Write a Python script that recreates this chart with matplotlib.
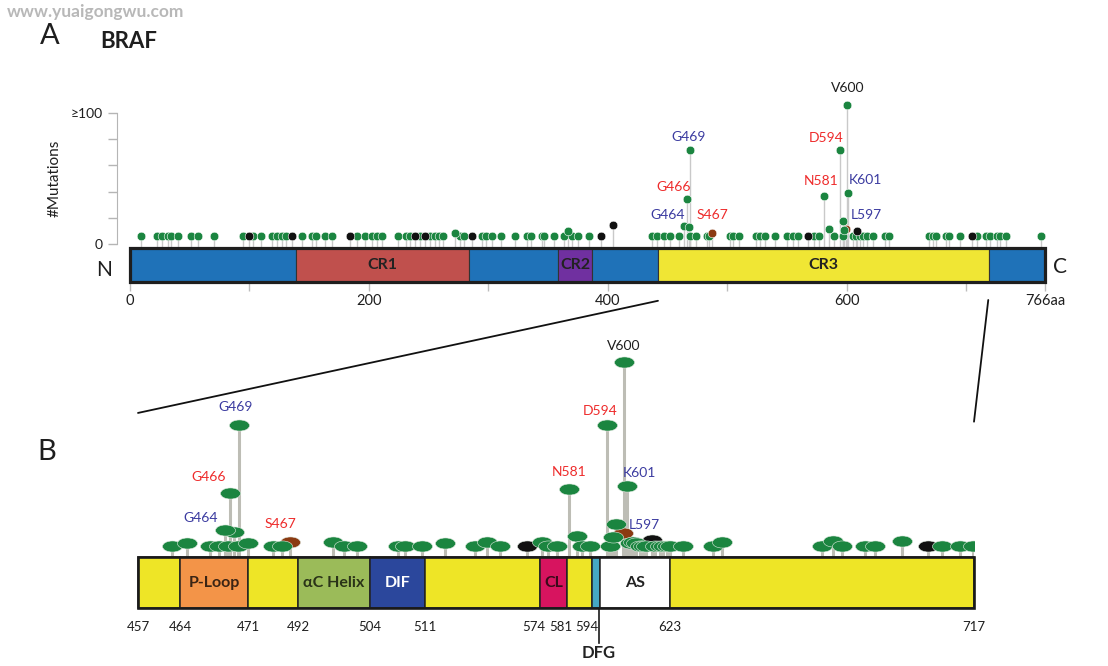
import numpy as np
import matplotlib.pyplot as plt
from matplotlib.patches import Rectangle, ConnectionPatch
from matplotlib.path import Path
from matplotlib.transforms import ScaledTranslation

plt.rcParams['font.family'] = ['Lato', 'DejaVu Sans']

W, H = 1108, 666

# ---------------- panel A : full length BRAF (766 aa) ----------------
a_length = 766
a_dom_start = [0, 139, 284, 358, 387, 442, 719]
a_dom_end = [139, 284, 358, 387, 442, 719, 766]
a_dom_name = ['', 'CR1', '', 'CR2', '', 'CR3', '']
a_dom_color = ['#1f72b8', '#c0504d', '#1f72b8', '#7030a0', '#1f72b8', '#f0e634', '#1f72b8']
a_xticks = [0, 200, 400, 600, 766]
a_xtick_labels = ['0', '200', '400', '600', '766aa']
a_minor_ticks = [100, 300, 500, 700]
a_yticks = [0, 20, 40, 60, 80, 100]
a_ytick_labels = ['0', '', '', '', '', '≥100']

# single-hit lollipops all sit at the same height
a_single = 6.5
a_single_green = [9, 23, 27, 32, 34, 40, 51, 57, 70, 95, 103, 110, 119, 123, 127, 131,
                  144, 152, 156, 163, 169, 190, 197, 203, 207, 211, 224, 231, 234, 243,
                  251, 255, 259, 262, 276, 280, 295, 298, 303, 311, 322, 332, 336, 345,
                  347, 355, 363, 370, 375, 384, 437, 441, 447, 452, 460, 469, 474, 483,
                  485, 502, 505, 510, 524, 527, 532, 540, 550, 555, 559, 573, 577, 589,
                  597, 605, 608, 611, 614, 617, 622, 632, 635, 669, 672, 675, 683, 686,
                  695, 709, 717, 720, 726, 728, 733, 763]
a_green_pos = [272, 367, 464, 468, 466, 469, 581, 585, 598, 597, 594, 601, 600]
a_green_cnt = [8.5, 10, 14.1, 13.4, 34.7, 71.7, 36.7, 11.6, 10.9, 17.7, 71.7, 39, 105.8]
a_black_pos = [100, 136, 184, 239, 247, 286, 394, 404, 568, 609, 705]
a_black_cnt = [6.5, 6.5, 6.5, 6.5, 6.5, 6.5, 6.5, 14.7, 6.5, 10, 6.5]
a_brown_pos = [487, 599]
a_brown_cnt = [8.8, 12]

# hotspot labels: text, residue, count, colour, offset in pixels
a_labels = [('V600', 600, 105.8, 'k', 1, 17),
            ('G469', 469, 71.7, 'b', -2, 13),
            ('D594', 594, 71.7, 'r', -13, 12),
            ('G466', 466, 34.7, 'r', -13, 12),
            ('N581', 581, 36.7, 'r', -3, 15),
            ('K601', 601, 39, 'b', 18, 13),
            ('G464', 464, 14.1, 'b', -17, 11),
            ('S467', 487, 8.8, 'r', 1, 18),
            ('L597', 597, 17.7, 'b', 23, 6)]

# ---------------- panel B : kinase domain 457-717 ----------------
b_dom_start = [457, 464, 471, 492, 504, 511, 574, 581, 594, 597, 623]
b_dom_end = [464, 471, 492, 504, 511, 574, 581, 594, 597, 623, 717]
b_dom_name = ['', 'P-Loop', '', 'αC Helix', 'DIF', '', 'CL', '', '', 'AS', '']
b_dom_color = ['#eee526', '#f39448', '#eee526', '#9bbb59', '#2b479c', '#eee526',
               '#d7145f', '#eee526', '#45a8c4', '#ffffff', '#eee526']
b_dom_text = ['#222', '#3a2414', '#222', '#2a3318', '#ffffff', '#222', '#3a0a1a',
              '#222', '#222', '#222', '#222']
b_xticks = [457, 464, 471, 492, 504, 511, 574, 581, 594, 623, 717]
b_dfg = 596.5

b_green_pos = [462.6, 464.7, 467.1, 468.0, 468.9, 469.6, 470.0, 471.0, 481.6, 485.1,
               497.9, 499.6, 501.8, 507.6, 508.5, 510.6, 522.0, 538.4, 544.8, 552.1,
               574.4, 576.1, 578.3, 586.4, 588.6, 592.9, 600.7, 601.7, 608.1, 609.3,
               610.4, 611.8, 613.0, 614.1, 617.4, 619.3, 620.5, 621.9, 623.0, 627.1,
               636.2, 639.0, 669.9, 673.5, 676.1, 683.3, 686.4, 694.6, 707.0, 712.7,
               716.8, 468.6, 469.1, 470.1, 582.0, 602.8, 599.7, 607.1, 606.0]
b_green_cnt = [6.2, 7.5, 6.2, 6.2, 6.2, 13.4, 6.2, 7.5, 6.2, 6.2,
               8.4, 6.2, 6.2, 6.2, 6.2, 6.2, 7.5, 6.2, 8.4, 6.2,
               8.4, 6.2, 6.2, 11.6, 6.2, 6.2, 6.2, 11.1, 7.5, 8.1,
               7.5, 6.2, 6.2, 6.2, 6.2, 6.2, 6.2, 6.2, 6.2, 6.2,
               6.2, 8.1, 6.2, 8.9, 6.2, 6.2, 6.2, 8.9, 6.2, 6.2,
               6.2, 14.7, 34.4, 71.1, 36.6, 17.7, 71.1, 38.5, 104.8]
b_black_pos = [566.7, 616.2, 702.9]
b_black_cnt = [6.2, 9.3, 6.2]
b_brown_pos = [488.6, 605.6]
b_brown_cnt = [8.4, 12.9]

b_labels = [('V600', 606.0, 104.8, 'k', -1, 16),
            ('D594', 599.7, 71.1, 'r', -7, 14),
            ('N581', 582.0, 36.6, 'r', 0, 17),
            ('K601', 607.1, 38.5, 'b', 12, 13),
            ('L597', 602.8, 17.7, 'b', 29, -1),
            ('G469', 470.1, 71.1, 'b', -4, 18),
            ('G466', 469.1, 34.4, 'r', -21, 16),
            ('G464', 468.6, 14.7, 'b', -24, 12),
            ('S467', 488.6, 8.4, 'r', -9, 18)]

# schematic (non linear) residue scale of panel B: residue -> pixel breakpoints
b_bp_res = [400, 457, 464, 471, 492, 504, 511, 574, 581, 594, 623, 717, 800]
b_bp_px = [-204, 138, 180, 248, 298, 370, 425, 540, 567, 592, 670, 974, 1242]
# crowded tick labels are nudged left (pixels)
b_tick_nudge = {574: -6, 581: -6, 594: -5}

label_colors = {'k': '#1e1e1e', 'r': '#ee2b2b', 'b': '#3b3ba0'}
green, black, brown = '#1b8540', '#111111', '#8b3a12'


def px_axes(left, top, right, bottom):
    return fig.add_axes([left / W, 1 - bottom / H, (right - left) / W, (bottom - top) / H])


fig = plt.figure(figsize=(W / 100, H / 100), dpi=100)

# ======================= panel A =======================
axA = px_axes(130, 95, 1045, 300)
axA.set_xlim(0, a_length)
axA.set_ylim(-42.3, 113.4)
bar_top, bar_bot = -3.0, -28.4

allpos = a_single_green + a_green_pos + a_black_pos + a_brown_pos
allcnt = [a_single] * len(a_single_green) + a_green_cnt + a_black_cnt + a_brown_cnt
axA.vlines(allpos, bar_top, allcnt, colors='#c9c9c9', lw=1.0, zorder=1)
mk = dict(ls='none', marker='o', ms=6.2, mec='white', mew=0.4, zorder=3)
axA.plot(a_single_green, [a_single] * len(a_single_green), mfc=green, **mk)
axA.plot(a_black_pos, a_black_cnt, mfc=black, **mk)
axA.plot(a_brown_pos, a_brown_cnt, mfc=brown, **mk)
axA.plot(a_green_pos, a_green_cnt, mfc=green, **mk)

for s, e, name, c in zip(a_dom_start, a_dom_end, a_dom_name, a_dom_color):
    axA.add_patch(Rectangle((s, bar_bot), e - s, bar_top - bar_bot, fc=c, ec='#333333',
                            lw=0.8, zorder=4, clip_on=False))
    if name:
        axA.text((s + e) / 2, (bar_top + bar_bot) / 2, name, ha='center', va='center',
                 fontsize=11.5, fontweight='bold', color='#222222', zorder=6)
axA.add_patch(Rectangle((0, bar_bot), a_length, bar_top - bar_bot, fill=False,
                        ec='#1e1e1e', lw=2.3, zorder=5, clip_on=False))

for txt, x, y, c, dx, dy in a_labels:
    axA.annotate(txt, (x, y), xytext=(dx, dy), textcoords='offset pixels', ha='center',
                 va='center', fontsize=10, color=label_colors[c], zorder=7)

for side in ['top', 'right']:
    axA.spines[side].set_visible(False)
axA.spines['bottom'].set_position(('data', bar_bot))
axA.spines['bottom'].set_visible(False)
axA.spines['left'].set_position(('outward', 9.2))
axA.spines['left'].set_bounds(0, 100)
axA.spines['left'].set_color('#b5b5b5')
axA.set_yticks(a_yticks)
axA.set_yticklabels(a_ytick_labels)
axA.set_xticks(a_xticks)
axA.set_xticklabels(a_xtick_labels)
axA.set_xticks(a_minor_ticks, minor=True)
axA.tick_params(axis='y', length=6.5, width=1, color='#b5b5b5', labelsize=10,
                pad=4, labelcolor='#1e1e1e')
axA.tick_params(axis='x', which='both', length=6.5, width=1, color='#bdbdbd',
                labelsize=10.5, pad=2.5, labelcolor='#1e1e1e')
axA.patch.set_visible(False)

# ======================= panel B =======================
def fwd(x):
    return np.interp(x, b_bp_res, b_bp_px)


def inv(x):
    return np.interp(x, b_bp_px, b_bp_res)


axB = px_axes(138, 340, 974, 608.3)
axB.set_xscale('function', functions=(fwd, inv))
axB.set_xlim(457, 717)
axB.set_ylim(-27.4, 116.8)
bb_top, bb_bot = 0, -27.4

ell = Path.unit_circle()
ell = Path(ell.vertices * [1, 0.55], ell.codes)

ballpos = b_green_pos + b_black_pos + b_brown_pos
ballcnt = b_green_cnt + b_black_cnt + b_brown_cnt
axB.vlines(ballpos, bb_top, ballcnt, colors='#bdbdb5', lw=2.2, zorder=1)
mkB = dict(ls='none', marker=ell, ms=14.5, mec='#dfe9df', mew=0.4, zorder=3)
axB.plot(b_black_pos, b_black_cnt, mfc=black, **mkB)
axB.plot(b_brown_pos, b_brown_cnt, mfc=brown, **mkB)
axB.plot(b_green_pos, b_green_cnt, mfc=green, **mkB)

for s, e, name, c, tc in zip(b_dom_start, b_dom_end, b_dom_name, b_dom_color, b_dom_text):
    axB.add_patch(Rectangle((s, bb_bot), e - s, bb_top - bb_bot, fc=c, ec='#222222',
                            lw=1.1, zorder=4, clip_on=False))
    if name:
        axB.text(inv((fwd(s) + fwd(e)) / 2), (bb_top + bb_bot) / 2, name, ha='center',
                 va='center', fontsize=11.5, fontweight='bold', color=tc, zorder=6)
axB.add_patch(Rectangle((457, bb_bot), 717 - 457, bb_top - bb_bot, fill=False,
                        ec='#1a1a1a', lw=1.9, zorder=5, clip_on=False))

for txt, x, y, c, dx, dy in b_labels:
    axB.annotate(txt, (x, y), xytext=(dx, dy), textcoords='offset pixels', ha='center',
                 va='center', fontsize=10, color=label_colors[c], zorder=7)

axB.plot([b_dfg, b_dfg], [bb_bot, -46.1], color='#1a1a1a', lw=1.2, clip_on=False)
axB.text(b_dfg, -51.3, 'DFG', ha='center', va='center', fontsize=12,
         fontweight='bold', color='#222222')

for sp in axB.spines.values():
    sp.set_visible(False)
axB.set_yticks([])
axB.set_xticks(b_xticks)
axB.set_xticklabels([str(t) for t in b_xticks])
axB.xaxis.set_minor_locator(plt.NullLocator())
axB.tick_params(axis='x', length=0, labelsize=9.5, pad=9, labelcolor='#1e1e1e')
axB.patch.set_visible(False)
for t, lab in zip(b_xticks, axB.get_xticklabels()):
    if t in b_tick_nudge:
        lab.set_transform(lab.get_transform() +
                          ScaledTranslation(b_tick_nudge[t] / 100, 0, fig.dpi_scale_trans))

# zoom lines from CR3 in A to panel B
for xa, ya, xb, yb in [(442, -42.9, 457, 77.6), (718.5, -42.3, 717, 72.9)]:
    con = ConnectionPatch(xyA=(xa, ya), coordsA=axA.transData, xyB=(xb, yb),
                          coordsB=axB.transData, color='#111111', lw=1.3)
    fig.add_artist(con)

# texts
fig.text(7 / W, 1 - 12 / H, 'www.yuaigongwu.com', fontsize=12.5, fontweight='bold',
         color='#b8b8b8', ha='left', va='center')
fig.text(50 / W, 1 - 36 / H, 'A', fontsize=21, ha='center', va='center', color='#1e1e1e')
fig.text(100 / W, 1 - 41 / H, 'BRAF', fontsize=16, fontweight='bold', ha='left',
         va='center', color='#1e1e1e')
fig.text(47 / W, 1 - 452 / H, 'B', fontsize=21, ha='center', va='center', color='#1e1e1e')
fig.text(104 / W, 1 - 270 / H, 'N', fontsize=15, ha='center', va='center', color='#1e1e1e')
fig.text(1060 / W, 1 - 267 / H, 'C', fontsize=15, ha='center', va='center', color='#1e1e1e')
fig.text(55 / W, 1 - 178 / H, '#Mutations', fontsize=11, rotation=90, ha='center',
         va='center', color='#1e1e1e')

fig.savefig('out.png', dpi=100)
